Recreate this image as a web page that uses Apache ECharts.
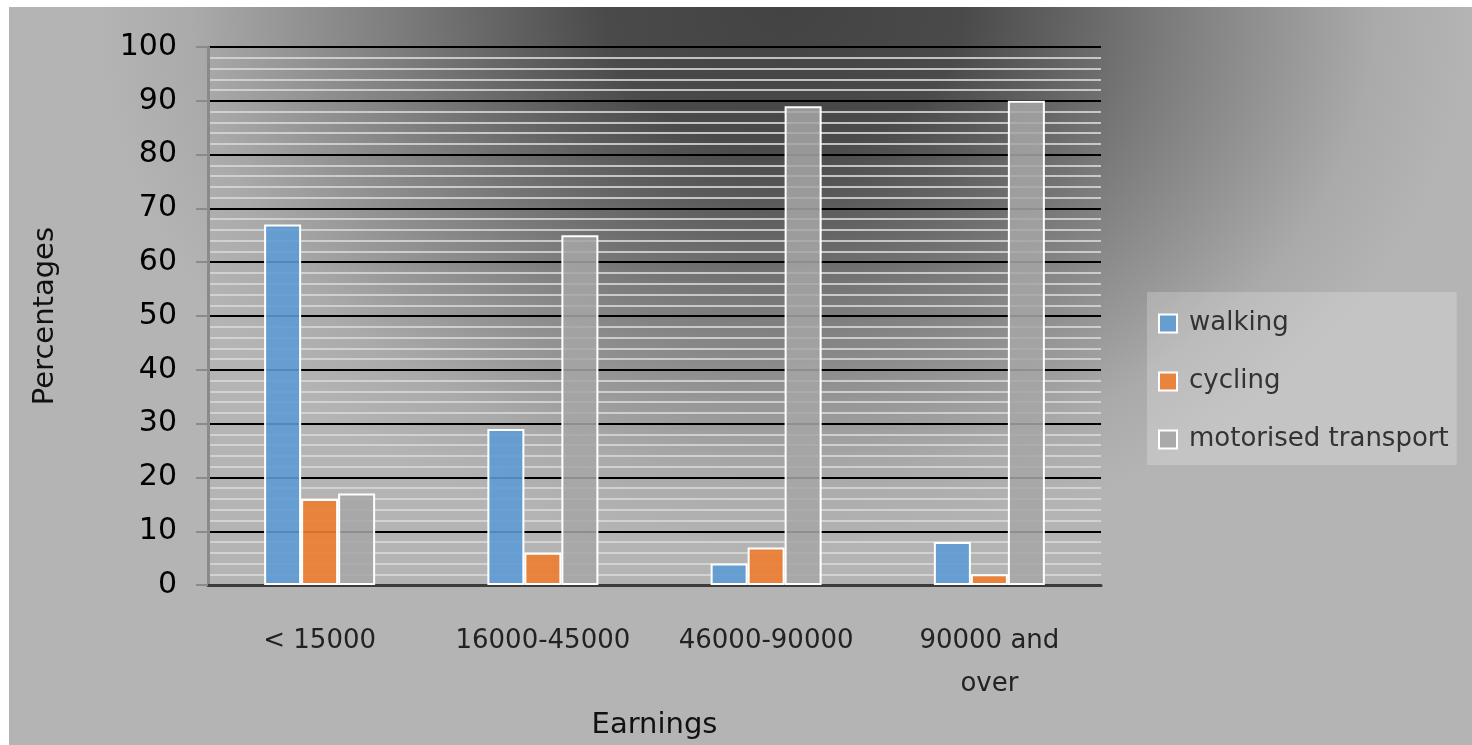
<!DOCTYPE html>
<html>
<head>
<meta charset="utf-8">
<script src="https://cdn.jsdelivr.net/npm/echarts@6/dist/echarts.min.js"></script>
<style>
  html, body { margin: 0; padding: 0; background: #fff; }
  #bg {
    position: absolute; left: 9px; top: 7px; width: 1463px; height: 738px;
    background: radial-gradient(ellipse 47% 74% at 53% 0%, #434343 0%, #4a4a4a 26%, #7c7c7c 56%, #aaaaaa 86%, #b4b4b4 100%);
  }
  #chart { position: absolute; left: 0; top: 0; width: 1472px; height: 745px; }
</style>
</head>
<body>
<div id="bg"></div>
<div id="chart"></div>
<script>
// earnings bands on the x axis
const categories = ['< 15000', '16000-45000', '46000-90000', '90000 and over'];
const walking = [67, 29, 4, 8];
const cycling = [16, 6, 7, 2];
const motorised = [17, 65, 89, 90];
const yTicks = [0, 10, 20, 30, 40, 50, 60, 70, 80, 90, 100];

const font = 'DejaVu Sans';
const myChart = echarts.init(document.getElementById('chart'));

function barSeries(name, data, color) {
    return {
        name: name,
        type: 'bar',
        data: data,
        barWidth: 37,
        barGap: '0%',
        itemStyle: {
            color: color,
            borderColor: '#ffffff',
            borderWidth: 2
        }
    };
}

const option = {
    backgroundColor: 'transparent',
    animation: false,
    grid: { left: 208, right: 371, top: 47, bottom: 156 },
    legend: {
        orient: 'vertical',
        left: 1147,
        top: 292,
        padding: [16, 8, 10, 11],
        itemGap: 27,
        itemWidth: 18,
        itemHeight: 18,
        backgroundColor: 'rgba(255,255,255,0.22)',
        textStyle: { fontFamily: font, fontSize: 26, color: '#333', lineHeight: 31, padding: [0, 0, 0, 7] },
        itemStyle: { borderColor: '#ffffff', borderWidth: 2 },
        data: [
            { name: 'walking', icon: 'rect' },
            { name: 'cycling', icon: 'rect' },
            { name: 'motorised transport', icon: 'rect' }
        ]
    },
    xAxis: {
        type: 'category',
        data: categories,
        name: 'Earnings',
        nameLocation: 'middle',
        nameGap: 116,
        nameTextStyle: { fontFamily: font, fontSize: 29, color: '#111' },
        axisLine: { lineStyle: { color: '#3c3c3c', width: 3 } },
        axisTick: { show: false },
        axisLabel: {
            interval: 0,
            margin: 35,
            fontFamily: font,
            fontSize: 26,
            color: '#222',
            lineHeight: 43,
            formatter: function (v) { return v.replace(' and ', ' and\n'); }
        }
    },
    yAxis: {
        type: 'value',
        min: yTicks[0],
        max: yTicks[yTicks.length - 1],
        interval: 10,
        name: 'Percentages',
        nameLocation: 'middle',
        nameGap: 148,
        nameTextStyle: { fontFamily: font, fontSize: 29, color: '#111' },
        axisLine: { show: true, lineStyle: { color: '#8a8a8a', width: 3 } },
        axisTick: { show: true, length: 12, lineStyle: { color: '#8a8a8a', width: 2 } },
        axisLabel: { margin: 31, fontFamily: font, fontSize: 30, color: '#000' },
        splitLine: { lineStyle: { color: '#000000', width: 2 } },
        minorTick: { show: true, splitNumber: 5, length: 0 },
        minorSplitLine: { show: true, lineStyle: { color: 'rgba(215,215,215,0.85)', width: 2 } }
    },
    series: [
        barSeries('walking', walking, 'rgba(91,155,213,0.88)'),
        barSeries('cycling', cycling, 'rgba(237,125,49,0.9)'),
        barSeries('motorised transport', motorised, 'rgba(165,165,165,0.86)')
    ]
};

myChart.setOption(option);
</script>
</body>
</html>
